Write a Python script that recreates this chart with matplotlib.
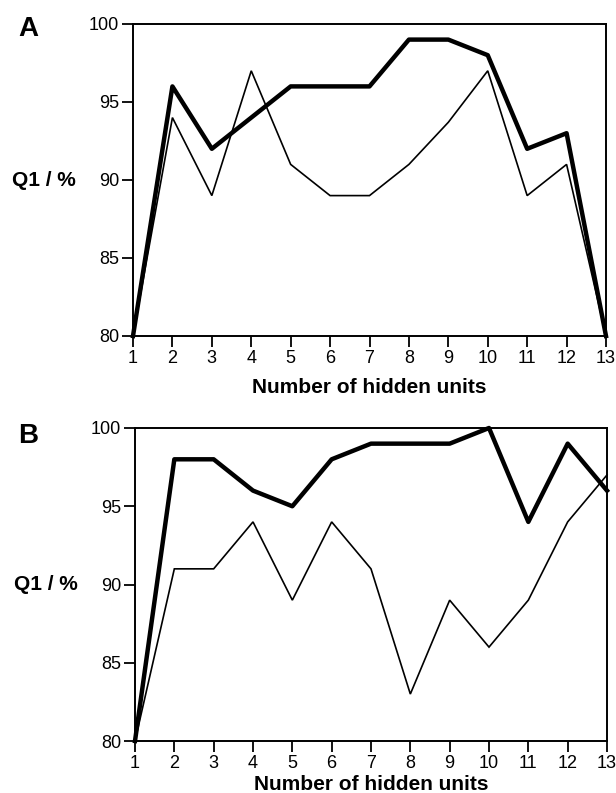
import matplotlib
matplotlib.use("Agg")
import matplotlib.pyplot as plt

hidden_units = list(range(1, 14))
a_thick = [80, 96, 92, 94, 96, 96, 96, 99, 99, 98, 92, 93, 80]
a_thin = [80, 94, 89, 97, 91, 89, 89, 91, 93.7, 97, 89, 91, 80]
b_thick = [80, 98, 98, 96, 95, 98, 99, 99, 99, 100, 94, 99, 96]
b_thin = [80, 91, 91, 94, 89, 94, 91, 83, 89, 86, 89, 94, 97]
yticks = [80, 85, 90, 95, 100]

plt.rcParams['font.family'] = ['Liberation Sans', 'DejaVu Sans']

fig = plt.figure(figsize=(6.16, 7.93), dpi=100)
W, H = 616, 793

def make_ax(l, r, t, b):
    return fig.add_axes([l / W, 1 - b / H, (r - l) / W, (b - t) / H])

axA = make_ax(133, 606, 24, 336)
axB = make_ax(135, 607, 428, 741)

panels = [
    (axA, a_thick, a_thin, 'A', 29, 24, 336, 388),
    (axB, b_thick, b_thin, 'B', 436, 428, 741, 784),
]

for ax, thick, thin, letter, ly, top, bot, xly in panels:
    ax.plot(hidden_units, thin, color='black', lw=1.2, clip_on=False, solid_joinstyle='miter')
    ax.plot(hidden_units, thick, color='black', lw=3.2, clip_on=False, solid_joinstyle='round')
    ax.set_xlim(1, 13)
    ax.set_ylim(80, 100)
    ax.set_xticks(hidden_units)
    ax.set_yticks(yticks)
    ax.tick_params(direction='out', length=8, width=1.3, labelsize=13, pad=2)
    for s in ax.spines.values():
        s.set_linewidth(1.4)
    ax.set_xlabel('Number of hidden units', fontsize=15, fontweight='bold', va='center')
    ax.xaxis.set_label_coords(0.5, -(xly - bot) / (bot - top))
    ax.set_ylabel('Q1 / %', fontsize=15, fontweight='bold', rotation=0, va='center', ha='left')
    ax.yaxis.set_label_coords(-(133 - 12) / 473, 0.5)
    fig.text(18 / W, 1 - ly / H, letter, fontsize=20, fontweight='bold', ha='left', va='center')

fig.savefig('out.png', dpi=100)
